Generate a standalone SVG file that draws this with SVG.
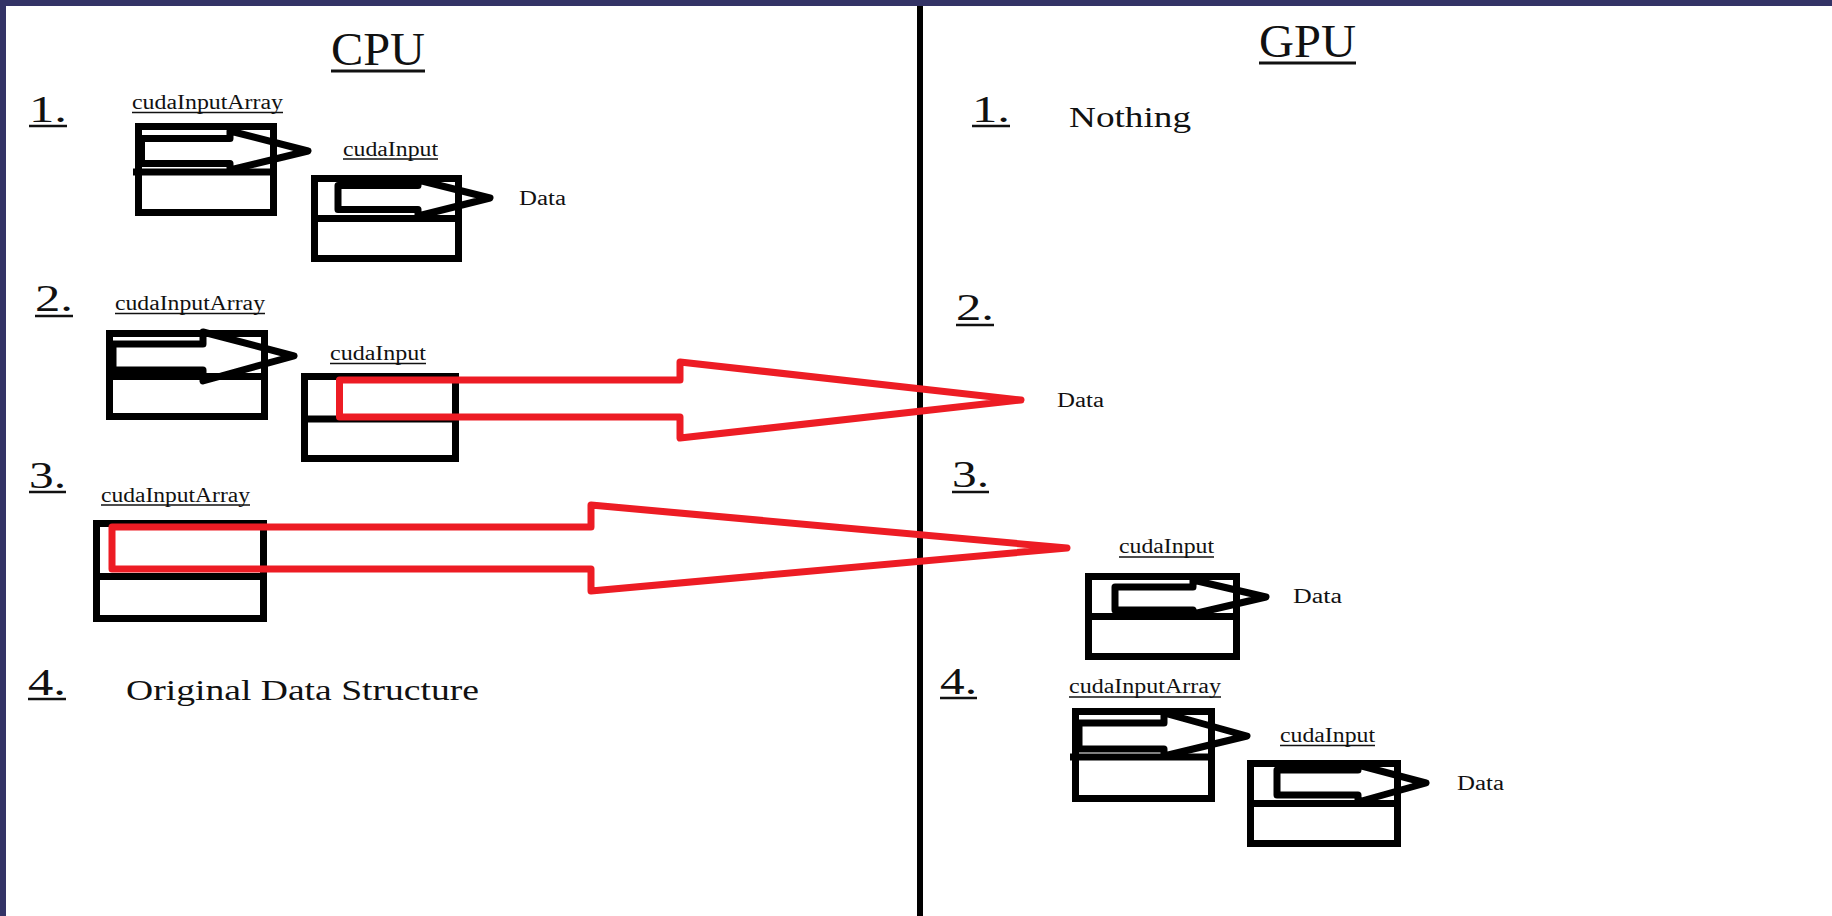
<svg xmlns="http://www.w3.org/2000/svg" width="1832" height="916" viewBox="0 0 1832 916">
<style>
.box{fill:none;stroke:#000;stroke-width:7}
.div{stroke:#000;stroke-width:7}
.ptr{fill:none;stroke:#000;stroke-width:7;stroke-linejoin:round}
.red{fill:none;stroke:#ed1c24;stroke-width:7;stroke-linejoin:round}
.t{font-family:"Liberation Serif","Times New Roman",serif;fill:#111}
.lbl{font-size:20px}
.num{font-size:38px}
.ttl{font-size:46px}
.big{font-size:30px}
.ul{stroke:#111;stroke-width:1.5}
.ul2{stroke:#111;stroke-width:2.5}
.ul3{stroke:#111;stroke-width:3}
</style>
<rect x="0" y="0" width="1832" height="916" fill="#ffffff"/>
<g id="frame">
<rect x="0" y="0" width="1832" height="6" fill="#333366"/>
<rect x="0" y="0" width="6" height="916" fill="#333366"/>
<rect x="917" y="6" width="6" height="910" fill="#000"/>
</g>

<g id="cpu-title">
<text class="t ttl" x="331" y="65" textLength="94" lengthAdjust="spacingAndGlyphs">CPU</text>
<line class="ul3" x1="331" y1="71" x2="425" y2="71"/>
</g>
<g id="gpu-title">
<text class="t ttl" x="1259" y="57" textLength="97" lengthAdjust="spacingAndGlyphs">GPU</text>
<line class="ul3" x1="1259" y1="63" x2="1356" y2="63"/>
</g>

<g id="cpu-step-numbers">
<text class="t num" x="29" y="122" textLength="38" lengthAdjust="spacingAndGlyphs">1.</text>
<line class="ul2" x1="29" y1="126" x2="67" y2="126"/>
<text class="t num" x="35" y="311" textLength="38" lengthAdjust="spacingAndGlyphs">2.</text>
<line class="ul2" x1="35" y1="316" x2="73" y2="316"/>
<text class="t num" x="29" y="488" textLength="37" lengthAdjust="spacingAndGlyphs">3.</text>
<line class="ul2" x1="29" y1="492" x2="66" y2="492"/>
<text class="t num" x="28" y="695" textLength="38" lengthAdjust="spacingAndGlyphs">4.</text>
<line class="ul2" x1="28" y1="699" x2="66" y2="699"/>
</g>
<g id="gpu-step-numbers">
<text class="t num" x="972" y="122" textLength="38" lengthAdjust="spacingAndGlyphs">1.</text>
<line class="ul2" x1="972" y1="126" x2="1010" y2="126"/>
<text class="t num" x="956" y="320" textLength="38" lengthAdjust="spacingAndGlyphs">2.</text>
<line class="ul2" x1="956" y1="325" x2="994" y2="325"/>
<text class="t num" x="952" y="487" textLength="37" lengthAdjust="spacingAndGlyphs">3.</text>
<line class="ul2" x1="952" y1="492" x2="989" y2="492"/>
<text class="t num" x="940" y="694" textLength="37" lengthAdjust="spacingAndGlyphs">4.</text>
<line class="ul2" x1="940" y1="698" x2="977" y2="698"/>
</g>

<!-- CPU step 1 -->
<g id="cpu1-array">
<text class="t lbl" x="132" y="109" textLength="151" lengthAdjust="spacingAndGlyphs">cudaInputArray</text>
<line class="ul" x1="132" y1="112.5" x2="283" y2="112.5"/>
<rect class="box" x="138.5" y="126.5" width="135" height="86"/>
<line class="div" x1="133" y1="172" x2="277" y2="172"/>
</g>
<g id="cpu1-input">
<text class="t lbl" x="343" y="156" textLength="95" lengthAdjust="spacingAndGlyphs">cudaInput</text>
<line class="ul" x1="343" y1="159" x2="438" y2="159"/>
<rect class="box" x="314.5" y="178.5" width="144" height="80"/>
<line class="div" x1="311" y1="218.5" x2="462" y2="218.5"/>
</g>
<g id="cpu1-data">
<text class="t lbl" x="519" y="205" textLength="47" lengthAdjust="spacingAndGlyphs">Data</text>
</g>

<!-- CPU step 2 -->
<g id="cpu2-array">
<text class="t lbl" x="115" y="310" textLength="150" lengthAdjust="spacingAndGlyphs">cudaInputArray</text>
<line class="ul" x1="115" y1="313.5" x2="265" y2="313.5"/>
<rect class="box" x="109.5" y="333.5" width="155" height="83"/>
<line class="div" x1="106" y1="376.5" x2="268" y2="376.5"/>
</g>
<g id="cpu2-input">
<text class="t lbl" x="330" y="360" textLength="96" lengthAdjust="spacingAndGlyphs">cudaInput</text>
<line class="ul" x1="330" y1="363.5" x2="426" y2="363.5"/>
<rect class="box" x="304.5" y="376.5" width="151" height="82"/>
<line class="div" x1="301" y1="419" x2="459" y2="419"/>
</g>

<!-- CPU step 3 -->
<g id="cpu3-array">
<text class="t lbl" x="101" y="502" textLength="149" lengthAdjust="spacingAndGlyphs">cudaInputArray</text>
<line class="ul" x1="101" y1="505" x2="250" y2="505"/>
<rect class="box" x="96.5" y="523.5" width="167" height="95"/>
<line class="div" x1="93" y1="576.5" x2="267" y2="576.5"/>
</g>

<!-- CPU step 4 -->
<g id="cpu4-original">
<text class="t big" x="126" y="700" textLength="353" lengthAdjust="spacingAndGlyphs">Original Data Structure</text>
</g>

<!-- GPU step 1 -->
<g id="gpu1-nothing">
<text class="t big" x="1069" y="127" textLength="122" lengthAdjust="spacingAndGlyphs">Nothing</text>
</g>

<!-- GPU step 2 -->
<g id="gpu2-data">
<text class="t lbl" x="1057" y="407" textLength="47" lengthAdjust="spacingAndGlyphs">Data</text>
</g>

<!-- GPU step 3 -->
<g id="gpu3-input">
<text class="t lbl" x="1119" y="553" textLength="95" lengthAdjust="spacingAndGlyphs">cudaInput</text>
<line class="ul" x1="1119" y1="557" x2="1214" y2="557"/>
<rect class="box" x="1088.5" y="576.5" width="148" height="80"/>
<line class="div" x1="1085" y1="616.5" x2="1240" y2="616.5"/>
</g>
<g id="gpu3-data">
<text class="t lbl" x="1293" y="603" textLength="49" lengthAdjust="spacingAndGlyphs">Data</text>
</g>

<!-- GPU step 4 -->
<g id="gpu4-array">
<text class="t lbl" x="1069" y="693" textLength="152" lengthAdjust="spacingAndGlyphs">cudaInputArray</text>
<line class="ul" x1="1069" y1="697" x2="1221" y2="697"/>
<rect class="box" x="1075.5" y="711.5" width="136" height="87"/>
<line class="div" x1="1070" y1="757" x2="1215" y2="757"/>
</g>
<g id="gpu4-input">
<text class="t lbl" x="1280" y="742" textLength="95" lengthAdjust="spacingAndGlyphs">cudaInput</text>
<line class="ul" x1="1280" y1="745.5" x2="1375" y2="745.5"/>
<rect class="box" x="1250.5" y="763.5" width="147" height="80"/>
<line class="div" x1="1247" y1="803.5" x2="1401" y2="803.5"/>
</g>
<g id="gpu4-data">
<text class="t lbl" x="1457" y="790" textLength="47" lengthAdjust="spacingAndGlyphs">Data</text>
</g>

<g id="connectors">
<!-- CPU step 1 pointers -->
<polygon class="ptr" points="141.5,138.5 230,138.5 230,131 308,151 230,170 230,163.5 141.5,163.5"/>
<polygon class="ptr" points="338,185.5 418,185.5 418,180 490,198 418,216 418,209.5 338,209.5"/>
<!-- CPU step 2 pointer -->
<polygon class="ptr" points="113,344 203,344 203,332 294,356 203,381 203,370 113,370"/>
<!-- Red transfer arrows -->
<polygon class="red" points="339.5,380 680,380 680,362 1021,400 680,438 680,417 339.5,417"/>
<polygon class="red" points="112,527 591,527 591,505 1067,548 591,591 591,569 112,569"/>
<!-- GPU step 3 pointer -->
<polygon class="ptr" points="1115,587 1193,587 1193,580 1266,597 1193,614 1193,610 1115,610"/>
<!-- GPU step 4 pointers -->
<polygon class="ptr" points="1079,723 1164,723 1164,713 1247,736 1164,756 1164,749 1079,749"/>
<polygon class="ptr" points="1277,770 1358,770 1358,765 1426,783 1358,802 1358,795 1277,795"/>
</g>
</svg>
